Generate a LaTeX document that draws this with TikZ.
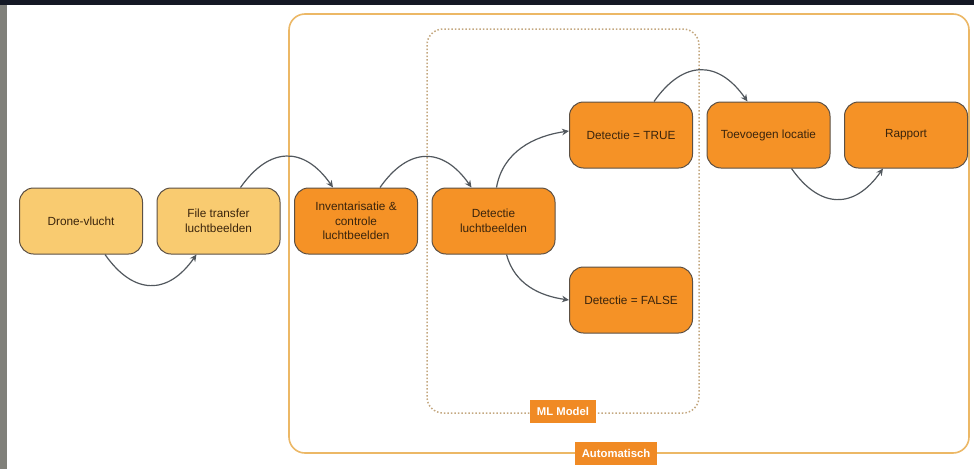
\documentclass[tikz,border=0pt]{standalone}
\usepackage{fontspec}
\setmainfont{Liberation Sans}
\usetikzlibrary{arrows.meta,positioning}

\definecolor{lightorange}{RGB}{249,203,112}
\definecolor{deeporange}{RGB}{245,146,38}
\definecolor{boxedge}{RGB}{92,80,68}
\definecolor{boxtext}{RGB}{58,36,12}
\definecolor{arrowgrey}{RGB}{82,88,94}
\definecolor{frameline}{RGB}{236,184,102}
\definecolor{dotline}{RGB}{196,168,128}
\definecolor{labelorange}{RGB}{240,138,36}
\definecolor{topband}{RGB}{20,24,36}
\definecolor{sidestrip}{RGB}{128,128,122}

\begin{document}
\begin{tikzpicture}[
    x=1pt, y=-1pt,
    node distance=13.5pt,
    stepbox/.style={rectangle, rounded corners=14pt, draw=boxedge, line width=1pt, minimum width=123pt, minimum height=66pt, align=center, text=boxtext, font=\fontsize{11.8}{14.5}\selectfont},
    manualbox/.style={stepbox, fill=lightorange},
    autobox/.style={stepbox, fill=deeporange},
    arrow/.style={-{Stealth[length=7pt,width=6.5pt]}, line width=1.2pt, draw=arrowgrey},
    grouplabel/.style={rectangle, fill=labelorange, text=white, font=\fontsize{11.3}{13}\selectfont\bfseries, minimum height=23pt, inner xsep=7pt}
]
    \useasboundingbox (0,0) rectangle (974,469);
    \fill[white] (0,0) rectangle (974,469);
    \fill[topband] (0,0) rectangle (974,5);
    \fill[sidestrip] (0,5) rectangle (7,469);

    % groups
    \draw[frameline, line width=1.6pt, rounded corners=16pt] (289,14) rectangle (969,453);
    \draw[dotline, line width=1.5pt, dotted, rounded corners=16pt] (427,29) rectangle (699,413);
    \node[grouplabel] (mllabel) at (563,411) {ML Model};
    \node[grouplabel] (autolabel) at (616,453) {Automatisch};

    % steps
    \node[manualbox] (drone) at (81,221) {Drone-vlucht};
    \node[manualbox, right=of drone] (transfer) {File transfer\\luchtbeelden};
    \node[autobox, right=of transfer] (inventory) {Inventarisatie \&\\controle\\luchtbeelden};
    \node[autobox, right=of inventory] (detect) {Detectie\\luchtbeelden};
    \node[autobox, right=of detect, yshift=86pt] (found) {Detectie = TRUE};
    \node[autobox, right=of detect, yshift=-79pt] (notfound) {Detectie = FALSE};
    \node[autobox, right=of found] (locate) {Toevoegen locatie};
    \node[autobox, right=of locate] (report) {Rapport};

    % flow
    \draw[arrow] ([xshift=24pt]drone.south) to[out=-55, in=-125, looseness=1.4] ([xshift=-22pt]transfer.south);
    \draw[arrow] ([xshift=22pt]transfer.north) to[out=55, in=125, looseness=1.4] ([xshift=-23pt]inventory.north);
    \draw[arrow] ([xshift=24pt]inventory.north) to[out=55, in=125, looseness=1.4] ([xshift=-22pt]detect.north);
    \draw[arrow] ([xshift=3pt]detect.north) to[out=80, in=188] ([yshift=4pt]found.west);
    \draw[arrow] ([xshift=13pt]detect.south) to[out=-75, in=172] (notfound.west);
    \draw[arrow] ([xshift=23pt]found.north) to[out=55, in=125, looseness=1.4] ([xshift=-21pt]locate.north);
    \draw[arrow] ([xshift=23pt]locate.south) to[out=-55, in=-125, looseness=1.4] ([xshift=-23pt]report.south);
\end{tikzpicture}
\end{document}
